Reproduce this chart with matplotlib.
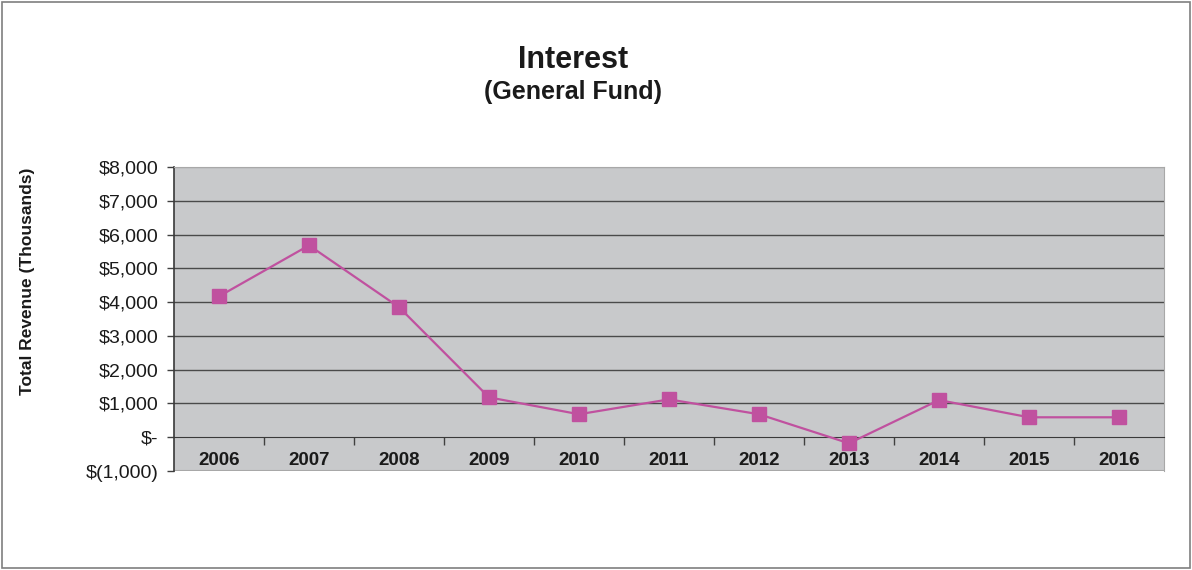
import matplotlib
matplotlib.use("Agg")
import matplotlib.pyplot as plt
from matplotlib.patches import Rectangle
from matplotlib.ticker import FuncFormatter, FixedLocator

years = ["2006", "2007", "2008", "2009", "2010", "2011", "2012", "2013", "2014", "2015", "2016"]
interest = [4170, 5680, 3850, 1180, 680, 1120, 680, -180, 1100, 590, 590]
yticks = [-1000, 0, 1000, 2000, 3000, 4000, 5000, 6000, 7000, 8000]

plt.rcParams['font.family'] = ['Liberation Sans', 'DejaVu Sans']

fig = plt.figure(figsize=(11.92, 5.70), dpi=100)
fig.patches.append(Rectangle((0.002, 0.003), 0.996, 0.994, transform=fig.transFigure,
                             fill=False, edgecolor='#7f7f7f', linewidth=1.2))

ax = fig.add_axes([174/1192, 1-471/570, 990/1192, 304/570])
ax.set_facecolor('#c8c9cb')

n = len(years)
xs = list(range(n))
ax.set_xlim(-0.5, n-0.5)
ax.set_ylim(-1000, 8000)

for v in yticks[2:-1]:
    ax.axhline(v, color='#4a4a4a', linewidth=1.0, zorder=1)
ax.axhline(8000, color='#a8a8a8', linewidth=1.0, zorder=1)

ax.plot(xs, interest, color='#c0519f', linewidth=1.6, marker='s', markersize=10,
        markerfacecolor='#c0519f', markeredgecolor='#c0519f', zorder=3, clip_on=False)

# y axis
ax.yaxis.set_major_locator(FixedLocator(yticks))
def fmt(v, pos):
    if v == 0:
        return "$-"
    if v < 0:
        return "$({:,.0f})".format(-v)
    return "${:,.0f}".format(v)
ax.yaxis.set_major_formatter(FuncFormatter(fmt))
ax.tick_params(axis='y', direction='out', length=5, width=1, color='#404040',
               labelsize=14, labelcolor='#1a1a1a', pad=6)

# x axis at zero
ax.spines['bottom'].set_position(('data', 0))
ax.spines['bottom'].set_color('#3a3a3a')
ax.spines['left'].set_color('#3a3a3a')
ax.spines['left'].set_linewidth(1.2)
ax.spines['top'].set_color('#a8a8a8')
ax.spines['right'].set_color('#a8a8a8')
ax.axhline(-1000, color='#a8a8a8', linewidth=1.5, zorder=0)
ax.set_xticks([i + 0.5 for i in range(n - 1)])
ax.set_xticklabels([])
ax.tick_params(axis='x', direction='out', length=6, width=1, color='#404040')
for i, y in enumerate(years):
    ax.text(i, -680, y, ha='center', va='center', fontsize=13.5, fontweight='bold',
            color='#1a1a1a')

fig.text(28/1192, 1-281/570, "Total Revenue (Thousands)", rotation=90, ha='center',
         va='center', fontsize=12.5, fontweight='bold', color='#1a1a1a')
fig.text(573/1192, 1-60/570, "Interest", ha='center', va='center', fontsize=22,
         fontweight='bold', color='#1a1a1a')
fig.text(573/1192, 1-92/570, "(General Fund)", ha='center', va='center', fontsize=18,
         fontweight='bold', color='#1a1a1a')

fig.savefig("out.png", dpi=100)
